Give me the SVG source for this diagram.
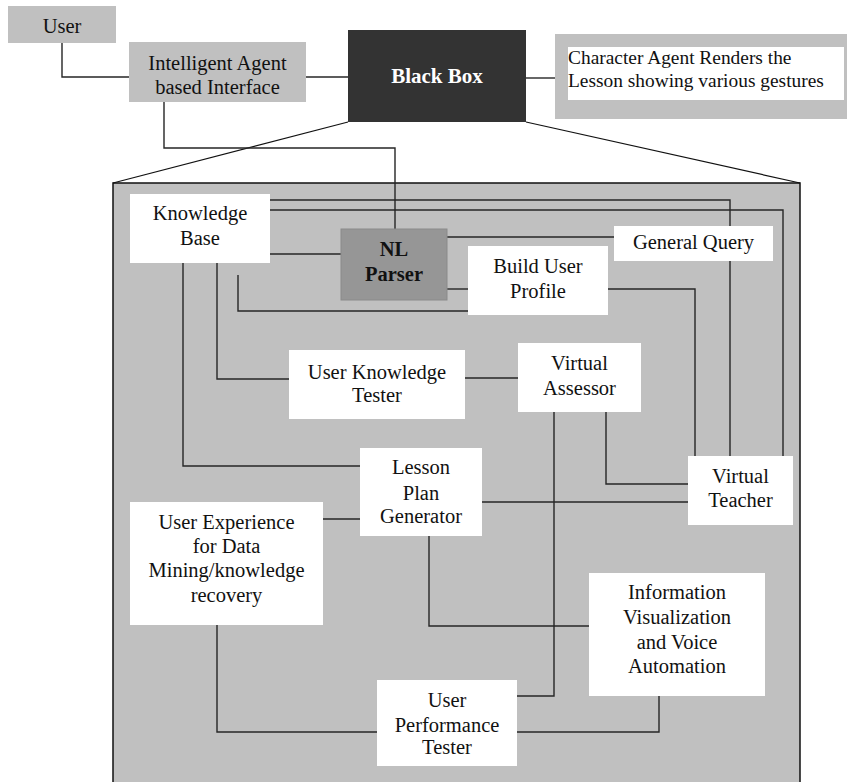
<svg xmlns="http://www.w3.org/2000/svg" width="847" height="782" viewBox="0 0 847 782">
<style>
.t{font-family:"Liberation Serif","Times New Roman",serif;font-size:20.5px;fill:#111;text-anchor:middle}
.b{font-weight:bold}
.w{fill:#ffffff}
.g{fill:#c0c0c0}
.c{fill:none;stroke:#262626;stroke-width:1.4}
</style>
<rect width="847" height="782" fill="#ffffff"/>
<g id="blackbox-detail">
<rect x="113" y="183" width="687" height="610" fill="#c0c0c0" stroke="#111" stroke-width="1.5"/>
<line x1="348" y1="122" x2="113" y2="183" stroke="#111" stroke-width="1.2"/>
<line x1="526" y1="122" x2="800" y2="183" stroke="#111" stroke-width="1.2"/>
</g>
<g id="connectors">
<path class="c" d="M62 43V77H129"/>
<path class="c" d="M306 77H348"/>
<path class="c" d="M526 78H555"/>
<path class="c" d="M164 102V148H395V229"/>
<path class="c" d="M270 254H341"/>
<path class="c" d="M270 200H730V456"/>
<path class="c" d="M270 210H783V456"/>
<path class="c" d="M447 237H614"/>
<path class="c" d="M447 289H468"/>
<path class="c" d="M608 289H695V456"/>
<path class="c" d="M238 275V311H468"/>
<path class="c" d="M183 263V466H360"/>
<path class="c" d="M217 263V379H289"/>
<path class="c" d="M465 378H518"/>
<path class="c" d="M606 412V484H688"/>
<path class="c" d="M554 412V696H517"/>
<path class="c" d="M482 502H688"/>
<path class="c" d="M323 519H360"/>
<path class="c" d="M429 536V626H589"/>
<path class="c" d="M217 625V732H377"/>
<path class="c" d="M659 696V732H517"/>
</g>
<g id="user">
<rect class="g" x="8" y="6" width="108" height="37"/>
<text class="t" x="62" y="33">User</text>
</g>
<g id="intelligent-agent">
<rect class="g" x="129" y="42" width="177" height="60"/>
<text class="t" x="217.5" y="70">Intelligent Agent</text>
<text class="t" x="217.5" y="94">based Interface</text>
</g>
<g id="black-box">
<rect x="348" y="30" width="178" height="92" fill="#333333"/>
<text class="t b" x="437" y="83" style="fill:#ffffff;font-size:21px">Black Box</text>
</g>
<g id="character-agent">
<rect class="g" x="555" y="34" width="292" height="85"/>
<rect class="w" x="568" y="47" width="276" height="53"/>
<text class="t" x="568" y="64" style="text-anchor:start;font-size:19.4px">Character Agent Renders the</text>
<text class="t" x="568" y="87" style="text-anchor:start;font-size:19.4px">Lesson showing various gestures</text>
</g>
<g id="knowledge-base">
<rect class="w" x="130" y="194" width="140" height="69"/>
<text class="t" x="200" y="220">Knowledge</text>
<text class="t" x="200" y="245">Base</text>
</g>
<g id="nl-parser">
<rect x="341" y="229" width="106" height="71" fill="#969696" stroke="#8a8a8a" stroke-width="1"/>
<text class="t b" x="394" y="256">NL</text>
<text class="t b" x="394" y="281">Parser</text>
</g>
<g id="general-query">
<rect class="w" x="614" y="226" width="159" height="35"/>
<text class="t" x="693.5" y="249">General Query</text>
</g>
<g id="build-user-profile">
<rect class="w" x="468" y="246" width="140" height="69"/>
<text class="t" x="538" y="273">Build User</text>
<text class="t" x="538" y="298">Profile</text>
</g>
<g id="user-knowledge-tester">
<rect class="w" x="289" y="350" width="176" height="69"/>
<text class="t" x="377" y="379">User Knowledge</text>
<text class="t" x="377" y="402">Tester</text>
</g>
<g id="virtual-assessor">
<rect class="w" x="518" y="343" width="123" height="69"/>
<text class="t" x="579.5" y="370">Virtual</text>
<text class="t" x="579.5" y="395">Assessor</text>
</g>
<g id="virtual-teacher">
<rect class="w" x="688" y="456" width="105" height="69"/>
<text class="t" x="740.5" y="483">Virtual</text>
<text class="t" x="740.5" y="507">Teacher</text>
</g>
<g id="lesson-plan-generator">
<rect class="w" x="360" y="448" width="122" height="88"/>
<text class="t" x="421" y="474">Lesson</text>
<text class="t" x="421" y="500">Plan</text>
<text class="t" x="421" y="523">Generator</text>
</g>
<g id="user-experience">
<rect class="w" x="130" y="502" width="193" height="123"/>
<text class="t" x="226.5" y="529">User Experience</text>
<text class="t" x="226.5" y="553">for Data</text>
<text class="t" x="226.5" y="577">Mining/knowledge</text>
<text class="t" x="226.5" y="602">recovery</text>
</g>
<g id="information-visualization">
<rect class="w" x="589" y="573" width="176" height="123"/>
<text class="t" x="677" y="599">Information</text>
<text class="t" x="677" y="624">Visualization</text>
<text class="t" x="677" y="649">and Voice</text>
<text class="t" x="677" y="673">Automation</text>
</g>
<g id="user-performance-tester">
<rect class="w" x="377" y="680" width="140" height="86"/>
<text class="t" x="447" y="707">User</text>
<text class="t" x="447" y="732">Performance</text>
<text class="t" x="447" y="754">Tester</text>
</g>
</svg>
